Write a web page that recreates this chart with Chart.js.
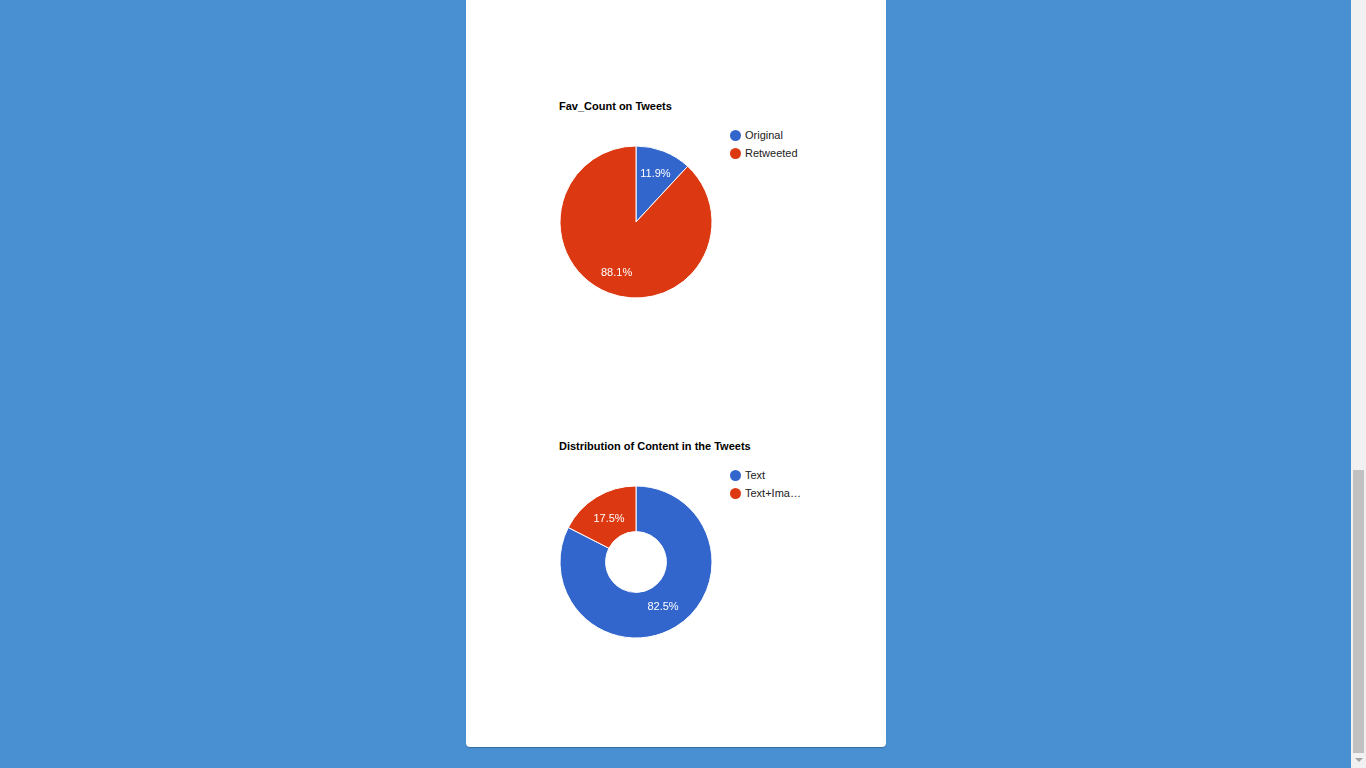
<!DOCTYPE html>
<html>
<head>
<meta charset="utf-8">
<script src="https://cdn.jsdelivr.net/npm/chart.js@4"></script>
<style>
html,body{margin:0;padding:0;width:1366px;height:768px;overflow:hidden;background:rgb(73,144,210);font-family:Arial,"Liberation Sans",sans-serif;}
#panel{position:absolute;left:466px;top:-10px;width:420px;height:757px;background:#fff;border-radius:4px;box-shadow:0 1px 1px rgba(0,0,0,0.25);}
.title{position:absolute;font-weight:bold;font-size:11px;line-height:11px;color:#000;white-space:nowrap;}
.leg{position:absolute;font-size:11px;line-height:11px;color:#222;white-space:nowrap;}
.dot{position:absolute;width:11px;height:11px;border-radius:50%;}
canvas{position:absolute;}
#sb{position:absolute;left:1351px;top:0;width:15px;height:768px;background:#f1f1f1;}
#thumb{position:absolute;left:2px;top:470px;width:11px;height:283px;background:#c1c1c1;}
#arrow{position:absolute;left:4px;top:758px;width:0;height:0;border-left:4px solid transparent;border-right:4px solid transparent;border-top:4px solid #a3a3a3;}
</style>
</head>
<body>
<div id="panel"></div>
<div id="sb"><div id="thumb"></div><div id="arrow"></div></div>
<div id="charts"></div>
<script>
const title1 = 'Fav_Count on Tweets';
const categories1 = ['Original', 'Retweeted'];
const values1 = [11.9, 88.1];

const title2 = 'Distribution of Content in the Tweets';
const categories2 = ['Text', 'Text+Image'];
const values2 = [82.5, 17.5];

const sliceColors = ['#3366cc', '#dc3912'];

const pctLabels = {
  id: 'pctLabels',
  afterDatasetsDraw(chart) {
    const ctx = chart.ctx;
    const meta = chart.getDatasetMeta(0);
    const data = chart.data.datasets[0].data;
    const total = data.reduce((a, b) => a + b, 0);
    ctx.save();
    ctx.font = '11px Arial, "Liberation Sans", sans-serif';
    ctx.fillStyle = '#ffffff';
    ctx.textAlign = 'center';
    ctx.textBaseline = 'middle';
    meta.data.forEach((arc, i) => {
      const p = arc.getProps(['x', 'y', 'startAngle', 'endAngle', 'innerRadius', 'outerRadius'], true);
      const mid = (p.startAngle + p.endAngle) / 2;
      const r = p.innerRadius > 0 ? p.outerRadius * 0.68 : p.outerRadius * 0.7;
      ctx.fillText((data[i] / total * 100).toFixed(1) + '%', p.x + Math.cos(mid) * r, p.y + Math.sin(mid) * r + 1);
    });
    ctx.restore();
  }
};

function shortLabel(s) {
  return s.length > 9 ? s.slice(0, 8) + '\u2026' : s;
}

function makeChart(offsetY, title, cats, vals, cutout) {
  const root = document.getElementById('charts');
  const t = document.createElement('div');
  t.className = 'title';
  t.style.left = '559px';
  t.style.top = (101 + offsetY) + 'px';
  t.textContent = title;
  root.appendChild(t);

  cats.forEach((c, i) => {
    const d = document.createElement('div');
    d.className = 'dot';
    d.style.left = '730px';
    d.style.top = (130 + offsetY + i * 18) + 'px';
    d.style.background = sliceColors[i];
    root.appendChild(d);
    const l = document.createElement('div');
    l.className = 'leg';
    l.style.left = '745px';
    l.style.top = (130 + offsetY + i * 18) + 'px';
    l.textContent = shortLabel(c);
    root.appendChild(l);
  });

  const cv = document.createElement('canvas');
  cv.width = 180; cv.height = 180;
  cv.style.left = '546px';
  cv.style.top = (132 + offsetY) + 'px';
  root.appendChild(cv);

  new Chart(cv, {
    type: cutout ? 'doughnut' : 'pie',
    data: {
      labels: cats,
      datasets: [{
        data: vals,
        backgroundColor: sliceColors,
        borderColor: '#ffffff',
        borderWidth: 1,
        hoverOffset: 0,
        hoverBorderWidth: 1
      }]
    },
    options: {
      responsive: false,
      animation: false,
      events: [],
      cutout: cutout || 0,
      radius: 76,
      layout: { padding: 0 },
      plugins: {
        legend: { display: false },
        title: { display: false },
        tooltip: { enabled: false }
      }
    },
    plugins: [pctLabels]
  });
}

makeChart(0, title1, categories1, values1, 0);
makeChart(340, title2, categories2, values2, '40%');
</script>
</body>
</html>
